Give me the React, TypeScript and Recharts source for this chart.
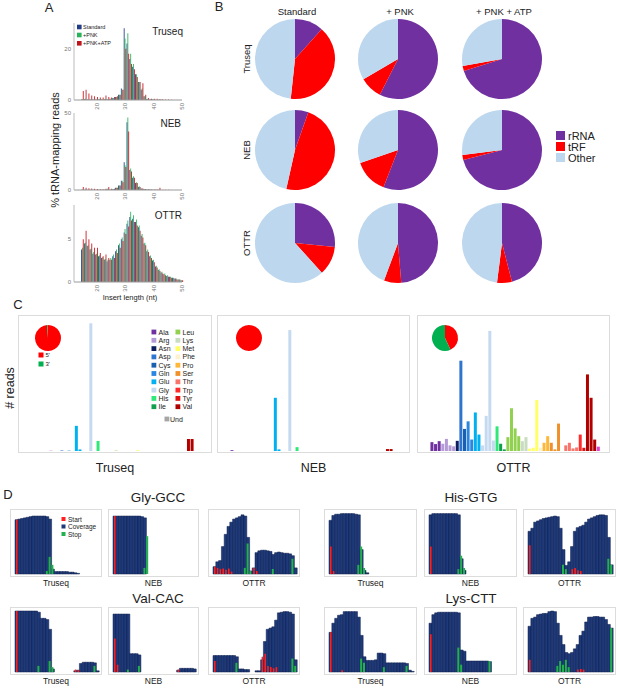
import React from 'react';
import { BarChart, Bar, XAxis, YAxis, Cell, PieChart, Pie } from 'recharts';

const FONT = '"Liberation Sans", Arial, Helvetica, sans-serif';

// ---------------- Panel A : insert length histograms ----------------
const insertLengths = [15, 16, 17, 18, 19, 20, 21, 22, 23, 24, 25, 26, 27, 28, 29, 30, 31, 32, 33, 34, 35, 36, 37, 38, 39, 40, 41, 42, 43, 44, 45, 46, 47, 48, 49, 50];
const histSeries = ['Standard', '+PNK', '+PNK+ATP'];
const histColors = ['#1f3c88', '#27b35a', '#c0141c'];

const truseqStandard = [0.2, 0.3, 0.2, 0.2, 0.2, 0.2, 0.2, 0.2, 0.3, 0.3, 0.5, 0.8, 1.2, 2.0, 4.5, 28, 22, 16, 13, 10, 7, 4, 1.5, 0.4, 0.2, 0.2, 0.1, 0.1, 0.1, 0, 0, 0, 0, 0, 0, 0];
const truseqPnk = [0.3, 0.5, 0.3, 0.3, 0.2, 0.2, 0.3, 0.3, 0.4, 0.3, 0.5, 0.8, 1.2, 2.0, 4.0, 24, 26, 18, 14, 10, 7, 4.5, 1.5, 0.5, 0.3, 0.2, 0.1, 0.1, 0.1, 0, 0, 0, 0, 0, 0, 0];
const truseqPnkAtp = [3.5, 4.0, 2.5, 1.8, 1.5, 1.2, 1.0, 1.0, 1.8, 1.2, 1.0, 1.2, 1.5, 2.0, 4.0, 20, 18, 14, 12, 9, 7, 6.5, 2.0, 0.8, 0.5, 0.5, 0.5, 0.4, 0.3, 0.2, 0.2, 0.1, 0, 0, 0, 0];

const nebStandard = [0.2, 0.2, 0.2, 0.1, 0.1, 0.1, 0.1, 0.1, 0.2, 0.5, 0.3, 0.5, 1.5, 3.0, 6.0, 18, 44, 13, 8, 4.5, 2.0, 1.0, 0.6, 0.4, 0.3, 0.2, 0.1, 0.1, 0, 0, 0, 0, 0, 0, 0, 0];
const nebPnk = [0.3, 0.3, 0.2, 0.2, 0.1, 0.1, 0.1, 0.2, 0.3, 1.0, 0.4, 0.6, 1.5, 3.0, 6.0, 16, 47, 14, 9, 5, 2.5, 1.0, 0.7, 0.4, 0.3, 0.2, 0.1, 0.1, 0, 0, 0, 0, 0, 0, 0, 0];
const nebPnkAtp = [2.0, 1.5, 1.2, 1.0, 0.8, 0.6, 0.5, 0.5, 0.8, 2.0, 0.8, 0.8, 1.5, 3.0, 5.0, 15, 38, 12, 8, 4.5, 2.0, 1.0, 0.6, 0.5, 0.4, 0.4, 0.3, 1.5, 0.2, 0.1, 0.1, 0, 0, 0, 0, 0];

const ottrStandard = [3.8, 4.5, 4.2, 3.8, 3.3, 3.2, 3.0, 2.8, 2.6, 2.4, 2.6, 3.0, 3.6, 4.3, 5.0, 5.8, 6.8, 7.6, 7.4, 7.0, 6.4, 5.4, 4.5, 3.6, 3.0, 2.5, 1.8, 1.4, 1.1, 0.9, 0.7, 0.6, 0.5, 0.4, 0.3, 0.2];
const ottrPnk = [4.0, 4.6, 4.3, 3.9, 3.5, 3.3, 3.1, 2.9, 2.7, 2.6, 2.8, 3.2, 3.8, 4.5, 5.2, 6.2, 7.2, 8.2, 7.8, 7.3, 6.6, 5.6, 4.6, 3.8, 3.1, 2.6, 1.9, 1.5, 1.2, 1.0, 0.8, 0.6, 0.5, 0.4, 0.3, 0.2];
const ottrPnkAtp = [5.0, 6.0, 5.0, 4.5, 4.0, 4.0, 3.4, 3.0, 3.2, 2.8, 2.6, 2.8, 3.4, 4.0, 4.8, 5.6, 6.5, 7.2, 7.0, 6.6, 6.0, 5.2, 4.3, 3.5, 2.8, 2.3, 1.7, 1.3, 1.0, 0.8, 0.6, 0.5, 0.4, 0.3, 0.3, 0.2];

// ---------------- Panel B : read composition pies ----------------
const pieLabels = ['rRNA', 'tRF', 'Other'];
const pieColors = ['#7030a0', '#ff0000', '#bdd7ee'];
const pieTruseqStandard = [11.6, 40.1, 48.3];
const pieTruseqPnk = [57.5, 9.1, 33.4];
const pieTruseqPnkAtp = [70.2, 2.0, 27.8];
const pieNebStandard = [5.4, 48.1, 46.5];
const pieNebPnk = [55.9, 13.8, 30.3];
const pieNebPnkAtp = [71.0, 2.0, 27.0];
const pieOttrStandard = [26.6, 11.7, 61.7];
const pieOttrPnk = [48.7, 7.0, 44.3];
const pieOttrPnkAtp = [46.0, 6.0, 48.0];
const pieColumns = ['Standard', '+ PNK', '+ PNK + ATP'];
const pieRows = ['Truseq', 'NEB', 'OTTR'];

// ---------------- Panel C : reads per isodecoder ----------------
const aaNames = ['Ala', 'Arg', 'Asn', 'Asp', 'Cys', 'Gln', 'Glu', 'Gly', 'His', 'Ile', 'Leu', 'Lys', 'Met', 'Phe', 'Pro', 'Ser', 'Thr', 'Trp', 'Tyr', 'Val', 'Und'];
const aaColors = ['#7030a0', '#b59ad8', '#0d1f5c', '#2e75d0', '#1b5fb0', '#2a86e0', '#00b0f0', '#c5d9f1', '#2fe878', '#12a04c', '#92d050', '#c8dcc0', '#ffff66', '#fdf1cf', '#fdb83a', '#f0902a', '#f7756a', '#ff2a2a', '#e01010', '#b00000', '#a6a6a6'];
const undBarColor = '#dd44cc';
const isodecoderAA = ['Ala', 'Ala', 'Ala', 'Arg', 'Arg', 'Arg', 'Arg', 'Asn', 'Asp', 'Cys', 'Gln', 'Gln', 'Glu', 'Glu', 'Gly', 'Gly', 'Gly', 'Gly', 'His', 'Ile', 'Ile', 'Leu', 'Leu', 'Leu', 'Leu', 'Lys', 'Lys', 'Met', 'Met', 'Met', 'Phe', 'Pro', 'Pro', 'Ser', 'Ser', 'Ser', 'Thr', 'Thr', 'Thr', 'Thr', 'Thr', 'Trp', 'Tyr', 'Val', 'Val', 'Val', 'Und'];
const readsTruseq = [0, 0, 0, 0, 0, 0.3, 0, 0, 0.4, 0, 0.3, 0, 19.5, 1.2, 0, 0, 99, 0, 7.8, 0, 0, 0, 0, 0.3, 0, 0, 0, 0, 0, 0.6, 0, 0, 0, 0, 0, 0, 0, 0, 0, 0, 0, 0, 0, 9.3, 9.3, 0, 0];
const readsNeb = [0.5, 0, 0, 0, 0, 0, 0, 0, 0, 0, 0, 0, 33, 1, 0, 0, 75, 0, 2.4, 0, 0, 0, 0, 0, 0, 0, 0, 0, 0, 0, 0, 0, 0, 0, 0, 0, 0, 0, 0, 0, 0, 0, 0, 1.2, 1.2, 0, 0];
const readsOttr = [5.5, 4.3, 6.1, 4.5, 7.5, 3.5, 2.9, 6.3, 56, 13.7, 18.4, 7.1, 23.9, 10.2, 3.5, 21.8, 74.5, 6.5, 15.3, 4.5, 1.0, 8.6, 26.5, 14, 9.2, 6.1, 8.6, 1.4, 2.0, 31.6, 2.0, 5.1, 9.2, 5.1, 1.0, 17, 0, 3.5, 5.1, 1.6, 2.2, 10.2, 2.0, 47.5, 33, 7.1, 2.7];
const endLabels = ["5'", "3'"];
const endColors = ['#ff0000', '#00b050'];
const endTruseq = [99, 1];
const endNeb = [100, 0];
const endOttr = [43, 57];

// ---------------- Panel D : coverage profiles ----------------
const covPositions = [1, 2, 3, 4, 5, 6, 7, 8, 9, 10, 11, 12, 13, 14, 15, 16, 17, 18, 19, 20, 21, 22, 23, 24, 25, 26, 27, 28, 29, 30];
const covSeries = ['Start', 'Coverage', 'Stop'];
const covColors = ['#ff1f1f', '#1f3a7a', '#22b14c'];

const glyTruseqCov = [89, 90, 91, 92, 93, 94, 95, 95, 95, 95, 95, 94, 90, 8, 4, 4, 4, 4, 4, 3, 3, 2, 1, 0, 0, 0, 0, 0, 0, 0];
const glyTruseqStart = [89, 0, 0, 0, 0, 0, 0, 0, 0, 0, 0, 0, 0, 0, 0, 0, 0, 0, 0, 0, 0, 0, 0, 0, 0, 0, 0, 0, 0, 0];
const glyTruseqStop = [0, 0, 0, 0, 0, 0, 0, 0, 0, 0, 0, 5, 28, 15, 0, 0, 0, 0, 0, 0, 0, 0, 0, 0, 0, 0, 0, 0, 0, 0];
const glyNebCov = [95, 95, 95, 95, 95, 95, 95, 95, 95, 95, 94, 92, 0, 0, 0, 0, 0, 0, 0, 0, 0, 0, 0, 0, 0, 0, 0, 0, 0, 0];
const glyNebStart = [95, 0, 0, 0, 0, 0, 0, 0, 0, 0, 0, 0, 0, 0, 0, 0, 0, 0, 0, 0, 0, 0, 0, 0, 0, 0, 0, 0, 0, 0];
const glyNebStop = [0, 0, 0, 0, 0, 0, 0, 0, 0, 0, 0, 10, 62, 0, 0, 0, 0, 0, 0, 0, 0, 0, 0, 0, 0, 0, 0, 0, 0, 0];
const glyOttrCov = [12, 20, 22, 45, 65, 78, 85, 90, 92, 94, 97, 95, 60, 5, 10, 35, 38, 39, 39, 38, 37, 32, 35, 36, 35, 34, 34, 33, 30, 10];
const glyOttrStart = [12, 10, 8, 9, 7, 9, 4, 0, 0, 0, 0, 0, 0, 0, 10, 5, 0, 0, 0, 0, 0, 0, 0, 0, 0, 0, 0, 0, 0, 0];
const glyOttrStop = [0, 0, 0, 0, 0, 0, 0, 0, 0, 0, 0, 10, 50, 5, 0, 0, 0, 0, 0, 0, 0, 8, 0, 0, 0, 0, 0, 0, 25, 0];

const valTruseqCov = [100, 100, 100, 100, 100, 100, 100, 100, 98, 88, 88, 86, 70, 5, 0, 0, 0, 0, 0, 0, 0, 2, 3, 14, 16, 16, 16, 16, 15, 2];
const valTruseqStart = [100, 0, 0, 0, 0, 0, 0, 0, 0, 0, 0, 0, 0, 0, 0, 0, 0, 0, 0, 0, 0, 4, 3, 0, 0, 0, 0, 0, 0, 0];
const valTruseqStop = [0, 0, 0, 0, 0, 0, 0, 0, 10, 0, 0, 0, 18, 8, 0, 0, 0, 0, 0, 0, 0, 0, 0, 0, 0, 0, 0, 0, 10, 0];
const valNebCov = [95, 95, 95, 95, 95, 95, 30, 30, 30, 28, 0, 0, 0, 0, 0, 0, 0, 0, 0, 0, 0, 0, 0, 3, 6, 6, 6, 6, 6, 5];
const valNebStart = [55, 12, 0, 0, 0, 0, 0, 0, 0, 0, 0, 0, 0, 0, 0, 0, 0, 0, 0, 0, 0, 0, 0, 4, 0, 0, 0, 0, 0, 0];
const valNebStop = [0, 0, 0, 0, 0, 4, 0, 0, 0, 10, 0, 0, 0, 0, 0, 0, 0, 0, 0, 0, 0, 0, 0, 0, 0, 0, 0, 0, 0, 0];
const valOttrCov = [27, 27, 27, 27, 27, 27, 27, 27, 25, 5, 5, 4, 4, 0, 0, 2, 2, 20, 50, 70, 72, 74, 85, 97, 98, 99, 99, 98, 95, 20];
const valOttrStart = [18, 0, 0, 0, 0, 0, 0, 0, 0, 0, 0, 0, 0, 0, 0, 0, 0, 25, 30, 10, 8, 6, 8, 0, 0, 0, 0, 0, 0, 0];
const valOttrStop = [0, 0, 0, 0, 0, 0, 0, 0, 15, 0, 0, 0, 0, 0, 0, 0, 0, 0, 0, 0, 0, 0, 0, 0, 0, 0, 0, 0, 22, 10];

const hisTruseqCov = [88, 96, 98, 98, 99, 99, 99, 99, 99, 98, 97, 40, 6, 2, 0, 0, 0, 0, 0, 0, 0, 0, 0, 0, 0, 0, 0, 0, 0, 0];
const hisTruseqStart = [45, 5, 0, 0, 0, 0, 0, 0, 0, 0, 0, 0, 0, 0, 0, 0, 0, 0, 0, 0, 0, 0, 0, 0, 0, 0, 0, 0, 0, 0];
const hisTruseqStop = [0, 0, 0, 0, 0, 0, 0, 0, 0, 0, 15, 45, 10, 0, 0, 0, 0, 0, 0, 0, 0, 0, 0, 0, 0, 0, 0, 0, 0, 0];
const hisNebCov = [97, 99, 99, 99, 99, 99, 99, 99, 99, 99, 97, 25, 6, 0, 0, 0, 0, 0, 0, 0, 0, 0, 0, 0, 0, 0, 0, 0, 0, 0];
const hisNebStart = [45, 0, 0, 0, 0, 0, 0, 0, 0, 0, 0, 0, 0, 0, 0, 0, 0, 0, 0, 0, 0, 0, 0, 0, 0, 0, 0, 0, 0, 0];
const hisNebStop = [0, 0, 0, 0, 0, 0, 0, 0, 0, 0, 8, 30, 10, 0, 0, 0, 0, 0, 0, 0, 0, 0, 0, 0, 0, 0, 0, 0, 0, 0];
const hisOttrCov = [70, 75, 85, 87, 89, 91, 92, 93, 94, 95, 94, 75, 40, 14, 20, 45, 70, 76, 78, 80, 85, 90, 92, 94, 96, 97, 97, 96, 60, 15];
const hisOttrStart = [47, 0, 0, 0, 0, 0, 0, 0, 0, 0, 0, 0, 0, 0, 0, 8, 10, 6, 5, 0, 0, 0, 0, 0, 0, 0, 0, 0, 0, 0];
const hisOttrStop = [0, 0, 0, 0, 0, 0, 0, 0, 0, 0, 0, 0, 15, 8, 0, 0, 0, 0, 0, 0, 0, 0, 0, 0, 0, 0, 0, 0, 25, 15];

const lysTruseqCov = [65, 80, 88, 93, 94, 99, 99, 99, 99, 99, 90, 60, 25, 19, 19, 19, 20, 31, 31, 30, 15, 15, 15, 15, 15, 15, 15, 14, 3, 1];
const lysTruseqStart = [65, 0, 0, 0, 3, 0, 0, 0, 0, 0, 0, 0, 0, 0, 0, 0, 0, 0, 0, 0, 0, 0, 0, 0, 0, 0, 0, 0, 0, 0];
const lysTruseqStop = [0, 0, 0, 0, 0, 0, 0, 0, 0, 0, 0, 22, 15, 0, 0, 0, 0, 0, 0, 8, 0, 0, 0, 0, 0, 0, 0, 10, 0, 0];
const lysNebCov = [80, 94, 97, 98, 98, 98, 98, 98, 98, 98, 97, 36, 34, 18, 18, 18, 18, 18, 18, 18, 18, 17, 0, 0, 0, 0, 0, 0, 0, 0];
const lysNebStart = [62, 0, 0, 0, 0, 0, 0, 0, 0, 0, 0, 0, 0, 0, 0, 0, 0, 0, 0, 0, 0, 0, 0, 0, 0, 0, 0, 0, 0, 0];
const lysNebStop = [0, 0, 0, 0, 0, 0, 0, 0, 0, 0, 40, 12, 0, 0, 0, 0, 0, 0, 0, 0, 0, 18, 0, 0, 0, 0, 0, 0, 0, 0];
const lysOttrCov = [75, 88, 90, 94, 95, 96, 96, 99, 100, 99, 80, 60, 45, 32, 30, 32, 38, 45, 60, 67, 82, 90, 90, 91, 91, 90, 90, 86, 78, 72];
const lysOttrStart = [20, 0, 0, 0, 0, 0, 0, 0, 0, 0, 0, 0, 0, 0, 0, 0, 0, 4, 5, 4, 0, 0, 0, 0, 0, 0, 0, 0, 0, 0];
const lysOttrStop = [0, 0, 0, 0, 0, 0, 0, 0, 0, 0, 10, 18, 12, 20, 8, 0, 0, 0, 0, 0, 0, 0, 0, 0, 0, 0, 0, 0, 0, 72];

// ---------------- helpers ----------------
const T = ({ x, y, s, children, anchor = 'middle', rot, fill = '#222' }: any) => (
  <text x={x} y={y} fontSize={s} textAnchor={anchor} dominantBaseline="central" fill={fill} fontFamily={FONT}
    transform={rot ? `rotate(${rot} ${x} ${y})` : undefined}>{children}</text>
);

const RotTick = (props: any) => {
  const { x, y, payload } = props;
  return (
    <text x={x} y={y} transform={`rotate(-90 ${x} ${y})`} textAnchor="end" dominantBaseline="central"
      fontSize={6} fill="#777" fontFamily={FONT}>{payload.value}</text>
  );
};

function Hist({ top, std, pnk, atp, yMax, yTicks }: any) {
  const rows = insertLengths.map((len, i) => ({ len, std: std[i], pnk: pnk[i], atp: atp[i] }));
  return (
    <div style={{ position: 'absolute', left: 50, top, width: 140, height: 99 }}>
      <BarChart width={140} height={99} data={rows} margin={{ top: 8, right: 8, bottom: 0, left: 4 }} barGap={0} barCategoryGap={0}>
        <XAxis dataKey="len" type="number" domain={[12, 50]} ticks={[20, 30, 40, 50]} height={14} tickSize={2} tickMargin={1}
          tickLine={false} axisLine={{ stroke: '#999' }} tick={<RotTick />} interval={0} />
        <YAxis type="number" domain={[0, yMax]} ticks={yTicks} width={20} tickSize={2} tickMargin={1} tickLine={false}
          axisLine={{ stroke: '#bbb' }} tick={{ fontSize: 6, fill: '#777', fontFamily: FONT }} interval={0} />
        <Bar dataKey="std" name={histSeries[0]} fill={histColors[0]} barSize={1} isAnimationActive={false} />
        <Bar dataKey="pnk" name={histSeries[1]} fill={histColors[1]} barSize={1} isAnimationActive={false} />
        <Bar dataKey="atp" name={histSeries[2]} fill={histColors[2]} barSize={1} isAnimationActive={false} />
      </BarChart>
    </div>
  );
}

function CompPie({ cx, cy, r, values, labels, colors }: any) {
  const data = values.map((v: number, i: number) => ({ name: labels[i], value: v }));
  const size = 2 * r + 4;
  return (
    <div style={{ position: 'absolute', left: cx - size / 2, top: cy - size / 2, width: size, height: size }}>
      <PieChart width={size} height={size} margin={{ top: 0, right: 0, bottom: 0, left: 0 }}>
        <Pie data={data} dataKey="value" cx="50%" cy="50%" outerRadius={r} startAngle={90} endAngle={-270}
          stroke="none" isAnimationActive={false}>
          {data.map((d: any, i: number) => <Cell key={i} fill={colors[i]} />)}
        </Pie>
      </PieChart>
    </div>
  );
}

const aaColor = (aa: string) => (aa === 'Und' ? undBarColor : aaColors[aaNames.indexOf(aa)]);

function ReadsPanel({ left, w, values, yMax, yTicks }: any) {
  const rows = isodecoderAA.map((aa, i) => ({ id: i, aa, v: values[i] }));
  const cw = w - 2;
  return (
    <div style={{ position: 'absolute', left, top: 315, width: w, height: 138, border: '1px solid #dcdcdc', boxSizing: 'border-box' }}>
      <BarChart width={cw} height={136} data={rows} margin={{ top: 6, right: cw - 12 - 170, bottom: 1, left: 12 }} barCategoryGap="12%">
        <XAxis dataKey="id" height={0} tick={false} tickLine={false} axisLine={{ stroke: '#dcdcdc', strokeWidth: 2 }} />
        <YAxis width={0} type="number" domain={[0, yMax]} ticks={yTicks} tick={false} tickSize={5}
          tickLine={{ stroke: '#999' }} axisLine={{ stroke: '#666' }} />
        <Bar dataKey="v" isAnimationActive={false}>
          {rows.map((r, i) => <Cell key={i} fill={aaColor(r.aa)} />)}
        </Bar>
      </BarChart>
    </div>
  );
}

function Coverage({ left, top, w, cov, start, stop, tick }: any) {
  const rows = covPositions.map((p, i) => ({ p, c: cov[i], s: start[i], t: stop[i] }));
  return (
    <div style={{ position: 'absolute', left, top, width: w, height: 68, border: '1px solid #dcdcdc', boxSizing: 'border-box' }}>
      <BarChart width={w - 2} height={66} data={rows} margin={{ top: 3, right: 2, bottom: 2, left: 4 }} barCategoryGap={0} barGap={0}>
        <XAxis xAxisId="a" dataKey="p" height={0} interval={0} tick={false} tickSize={2}
          tickLine={{ stroke: '#ccc' }} axisLine={{ stroke: '#ccc' }} />
        <XAxis xAxisId="b" dataKey="p" hide />
        <XAxis xAxisId="c" dataKey="p" hide />
        <YAxis width={0} type="number" domain={[0, 100]} ticks={[tick]} tick={false} tickSize={3}
          tickLine={{ stroke: '#999' }} axisLine={{ stroke: '#999' }} />
        <Bar xAxisId="a" dataKey="c" name={covSeries[1]} fill={covColors[1]} stroke="#0c1c48" strokeWidth={0.5} isAnimationActive={false} />
        <Bar xAxisId="b" dataKey="s" name={covSeries[0]} fill={covColors[0]} barSize={1.6} isAnimationActive={false} />
        <Bar xAxisId="c" dataKey="t" name={covSeries[2]} fill={covColors[2]} barSize={2} isAnimationActive={false} />
      </BarChart>
    </div>
  );
}

const pieCx = [295, 398, 502];
const pieCy = [59, 150, 243];
const pieGrid = [
  [pieTruseqStandard, pieTruseqPnk, pieTruseqPnkAtp],
  [pieNebStandard, pieNebPnk, pieNebPnkAtp],
  [pieOttrStandard, pieOttrPnk, pieOttrPnkAtp],
];

const cBoxes = [
  { left: 18, w: 194, values: readsTruseq, yMax: 100, yTicks: [0, 50, 100], label: 'Truseq', pie: endTruseq, pcx: 48 },
  { left: 217, w: 193, values: readsNeb, yMax: 80, yTicks: [0, 50], label: 'NEB', pie: endNeb, pcx: 249 },
  { left: 417, w: 193, values: readsOttr, yMax: 80, yTicks: [0, 50], label: 'OTTR', pie: endOttr, pcx: 445 },
];

const dGroups = [
  { title: 'Gly-GCC', tx: 158, ty: 497, top: 509, xs: [10, 108, 208], ws: [92, 91, 92],
    charts: [[glyTruseqCov, glyTruseqStart, glyTruseqStop, 71], [glyNebCov, glyNebStart, glyNebStop, 59], [glyOttrCov, glyOttrStart, glyOttrStop, 54]] },
  { title: 'Val-CAC', tx: 158, ty: 598, top: 607, xs: [10, 108, 208], ws: [92, 91, 92],
    charts: [[valTruseqCov, valTruseqStart, valTruseqStop, 97], [valNebCov, valNebStart, valNebStop, 97], [valOttrCov, valOttrStart, valOttrStop, 60]] },
  { title: 'His-GTG', tx: 471, ty: 497, top: 509, xs: [324, 424, 523], ws: [93, 93, 93],
    charts: [[hisTruseqCov, hisTruseqStart, hisTruseqStop, 53], [hisNebCov, hisNebStart, hisNebStop, 74], [hisOttrCov, hisOttrStart, hisOttrStop, 95]] },
  { title: 'Lys-CTT', tx: 471, ty: 598, top: 607, xs: [324, 424, 523], ws: [93, 93, 93],
    charts: [[lysTruseqCov, lysTruseqStart, lysTruseqStop, 90], [lysNebCov, lysNebStart, lysNebStop, 90], [lysOttrCov, lysOttrStart, lysOttrStop, 90]] },
];
const kitNames = ['Truseq', 'NEB', 'OTTR'];

const aaLegendLeft = aaNames.slice(0, 10);
const aaLegendRight = aaNames.slice(10, 20);

export default function App() {
  return (
    <div style={{ position: 'absolute', left: 0, top: 0, width: 617, height: 688, background: '#fff', overflow: 'hidden', fontFamily: FONT }}>
      {/* Panel A */}
      <Hist top={15} std={truseqStandard} pnk={truseqPnk} atp={truseqPnkAtp} yMax={30} yTicks={[0, 20]} />
      <Hist top={105} std={nebStandard} pnk={nebPnk} atp={nebPnkAtp} yMax={50} yTicks={[0, 50]} />
      <Hist top={197} std={ottrStandard} pnk={ottrPnk} atp={ottrPnkAtp} yMax={9} yTicks={[0, 5]} />

      {/* Panel B */}
      {pieGrid.map((row, ri) => row.map((vals, ci) => (
        <CompPie key={`${ri}-${ci}`} cx={pieCx[ci]} cy={pieCy[ri]} r={40} values={vals} labels={pieLabels} colors={pieColors} />
      )))}

      {/* Panel C */}
      {cBoxes.map((b, i) => (
        <React.Fragment key={i}>
          <ReadsPanel left={b.left} w={b.w} values={b.values} yMax={b.yMax} yTicks={b.yTicks} />
          <CompPie cx={b.pcx} cy={338} r={13} values={b.pie} labels={endLabels} colors={endColors} />
        </React.Fragment>
      ))}

      {/* Panel D */}
      {dGroups.map((g, gi) => g.charts.map((c, ci) => (
        <Coverage key={`${gi}-${ci}`} left={g.xs[ci]} top={g.top} w={g.ws[ci]} cov={c[0]} start={c[1]} stop={c[2]} tick={c[3]} />
      )))}

      {/* Text & legends */}
      <svg width={617} height={688} style={{ position: 'absolute', left: 0, top: 0, pointerEvents: 'none' }}>
        {/* A */}
        <T x={49} y={7} s={13}>A</T>
        <T x={183} y={31} s={10} anchor="end">Truseq</T>
        <T x={181} y={123} s={10} anchor="end">NEB</T>
        <T x={182} y={215} s={10} anchor="end">OTTR</T>
        <T x={55} y={150} s={11} rot={-90}>% tRNA-mapping reads</T>
        <T x={130} y={297} s={7.5}>Insert length (nt)</T>
        {histSeries.map((s, i) => (
          <g key={s}>
            <rect x={77} y={[27, 35, 43.3][i] - 2.3} width={4.6} height={4.6} fill={histColors[i]} />
            <T x={83} y={[27, 35, 43.3][i]} s={5.5} anchor="start">{s}</T>
          </g>
        ))}

        {/* B */}
        <T x={219} y={6} s={13}>B</T>
        {pieColumns.map((c, i) => <T key={c} x={pieCx[i] + 2} y={11} s={9.5}>{c}</T>)}
        {pieRows.map((r, i) => <T key={r} x={246} y={pieCy[i]} s={9.5} rot={-90}>{r}</T>)}
        {pieLabels.map((l, i) => (
          <g key={l}>
            <rect x={556} y={[135.5, 146.5, 157.5][i] - 4.5} width={9} height={9} fill={pieColors[i]} />
            <T x={568} y={[135.5, 146.5, 157.5][i]} s={11} anchor="start">{l}</T>
          </g>
        ))}

        {/* C */}
        <T x={18} y={304} s={13}>C</T>
        <T x={10} y={388} s={12.5} rot={-90}># reads</T>
        {cBoxes.map((b) => <T key={b.label} x={b.left + b.w / 2} y={468} s={12.5}>{b.label}</T>)}
        {endLabels.map((l, i) => (
          <g key={l}>
            <rect x={38.5} y={[355, 364][i] - 2.5} width={5} height={5} fill={endColors[i]} />
            <T x={45.5} y={[355, 364][i]} s={6} anchor="start">{l}</T>
          </g>
        ))}
        {aaLegendLeft.map((a, i) => (
          <g key={a}>
            <rect x={151.5} y={332 + i * 8.3 - 2.4} width={4.8} height={4.8} fill={aaColors[i]} />
            <T x={158.5} y={332 + i * 8.3} s={7} anchor="start">{a}</T>
          </g>
        ))}
        {aaLegendRight.map((a, i) => (
          <g key={a}>
            <rect x={175.5} y={332 + i * 8.3 - 2.4} width={4.8} height={4.8} fill={aaColors[i + 10]} />
            <T x={182.5} y={332 + i * 8.3} s={7} anchor="start">{a}</T>
          </g>
        ))}
        <rect x={164.5} y={419 - 2.4} width={4.8} height={4.8} fill={aaColors[20]} />
        <T x={170} y={419} s={7} anchor="start">{aaNames[20]}</T>

        {/* D */}
        <T x={8} y={494} s={13}>D</T>
        {dGroups.map((g) => (
          <g key={g.title}>
            <T x={g.tx} y={g.ty} s={13.5}>{g.title}</T>
            {g.xs.map((x, i) => <T key={i} x={x + g.ws[i] / 2} y={g.top + 74} s={8.5}>{kitNames[i]}</T>)}
          </g>
        ))}
        {covSeries.map((s, i) => (
          <g key={s}>
            <rect x={61.5} y={[519, 526.5, 534][i] - 2} width={4} height={4} fill={covColors[i]} />
            <T x={68} y={[519, 526.5, 534][i]} s={6.5} anchor="start">{s}</T>
          </g>
        ))}
      </svg>
    </div>
  );
}
